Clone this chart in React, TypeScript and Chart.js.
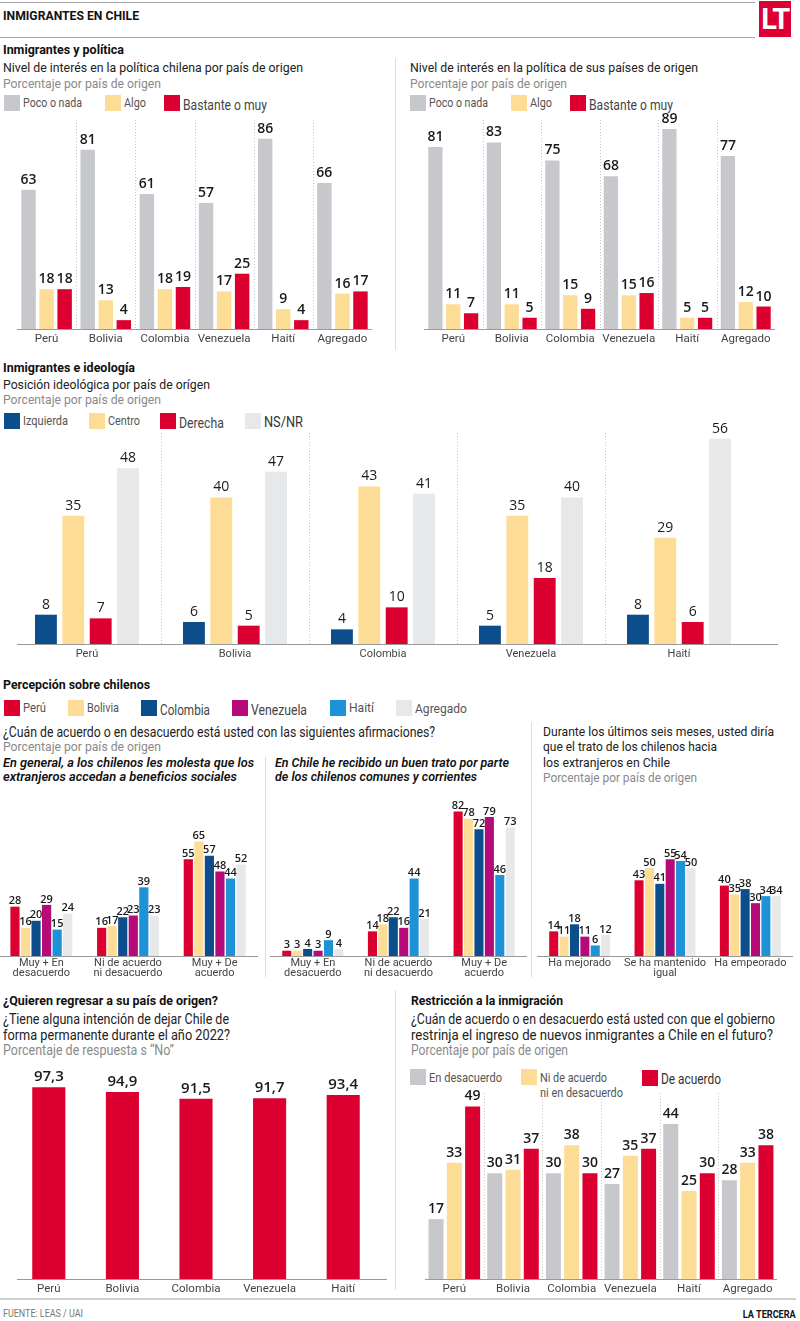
import React, { useEffect, useLayoutEffect, useRef } from 'react';
import { Chart, registerables } from 'chart.js';
Chart.register(...registerables);

// ---------- DATA ----------
const COUNTRIES6 = ['Perú', 'Bolivia', 'Colombia', 'Venezuela', 'Haití', 'Agregado'];
const COUNTRIES5 = ['Perú', 'Bolivia', 'Colombia', 'Venezuela', 'Haití'];

const chilePoco = [63, 81, 61, 57, 86, 66];
const chileAlgo = [18, 13, 18, 17, 9, 16];
const chileBastante = [18, 4, 19, 25, 4, 17];

const origenPoco = [81, 83, 75, 68, 89, 77];
const origenAlgo = [11, 11, 15, 15, 5, 12];
const origenBastante = [7, 5, 9, 16, 5, 10];

const ideoIzquierda = [8, 6, 4, 5, 8];
const ideoCentro = [35, 40, 43, 35, 29];
const ideoDerecha = [7, 5, 10, 18, 6];
const ideoNsnr = [48, 47, 41, 40, 56];

const acuerdoCats = [['Muy + En', 'desacuerdo'], ['Ni de acuerdo', 'ni desacuerdo'], ['Muy + De', 'acuerdo']];
const tratoCats = ['Ha mejorado', ['Se ha mantenido', 'igual'], 'Ha empeorado'];
const percSeries = ['Perú', 'Bolivia', 'Colombia', 'Venezuela', 'Haití', 'Agregado'];

const molestaPeru = [28, 16, 55];
const molestaBolivia = [16, 17, 65];
const molestaColombia = [20, 22, 57];
const molestaVenezuela = [29, 23, 48];
const molestaHaiti = [15, 39, 44];
const molestaAgregado = [24, 23, 52];

const buenTratoPeru = [3, 14, 82];
const buenTratoBolivia = [3, 18, 78];
const buenTratoColombia = [4, 22, 72];
const buenTratoVenezuela = [3, 16, 79];
const buenTratoHaiti = [9, 44, 46];
const buenTratoAgregado = [4, 21, 73];

const tratoPeru = [14, 43, 40];
const tratoBolivia = [11, 50, 35];
const tratoColombia = [18, 41, 38];
const tratoVenezuela = [11, 55, 30];
const tratoHaiti = [6, 54, 34];
const tratoAgregado = [12, 50, 34];

const regresarNo = [97.3, 94.9, 91.5, 91.7, 93.4];

const restrDesacuerdo = [17, 30, 30, 27, 44, 28];
const restrNi = [33, 31, 38, 35, 25, 33];
const restrAcuerdo = [49, 37, 30, 37, 30, 38];

// ---------- STYLE ----------
const GRAY = '#c7c8cc';
const YELLOW = '#fddc96';
const RED = '#dc0030';
const BLUE = '#0c4e8b';
const LIGHT = '#e7e8ea';
const MAGENTA = '#b50a78';
const SKY = '#1d92d6';
const TEXTF = 'Roboto, "Open Sans", sans-serif';
const NUMF = '"Open Sans", Roboto, sans-serif';
const TICKF = 'Roboto, "Open Sans", sans-serif';

const PERC_COLORS = [RED, YELLOW, BLUE, MAGENTA, SKY, LIGHT];

const decoPlugin = {
  id: 'deco',
  beforeDatasetsDraw(chart: any, _a: any, o: any) {
    const { ctx, chartArea } = chart;
    const x = chart.scales.x;
    ctx.save();
    if (o.separators) {
      ctx.strokeStyle = '#c4c4c4';
      ctx.lineWidth = 1;
      ctx.setLineDash([1, 2]);
      for (let i = 1; i < chart.data.labels.length; i++) {
        const px = Math.round((x.getPixelForValue(i - 1) + x.getPixelForValue(i)) / 2) + 0.5;
        ctx.beginPath();
        ctx.moveTo(px, chartArea.top);
        ctx.lineTo(px, chartArea.bottom);
        ctx.stroke();
      }
    }
    ctx.setLineDash([]);
    ctx.strokeStyle = o.baseColor || '#9a9a9a';
    ctx.lineWidth = 1;
    ctx.beginPath();
    ctx.moveTo(chartArea.left - (o.extL || 0), Math.round(chartArea.bottom) + 0.5);
    ctx.lineTo(chartArea.right + (o.extR || 0), Math.round(chartArea.bottom) + 0.5);
    ctx.stroke();
    ctx.restore();
  },
  afterDatasetsDraw(chart: any, _a: any, o: any) {
    const { ctx } = chart;
    ctx.save();
    ctx.fillStyle = o.valueColor || '#1a1a1a';
    ctx.font = o.valueFont;
    ctx.textAlign = 'center';
    ctx.textBaseline = 'bottom';
    chart.data.datasets.forEach((ds: any, di: number) => {
      const meta = chart.getDatasetMeta(di);
      meta.data.forEach((el: any, i: number) => {
        const v = ds.data[i];
        const txt = o.fmt ? o.fmt(v) : String(v);
        ctx.fillText(txt, el.x, el.y - o.gap);
      });
    });
    ctx.restore();
  },
};

interface Spec {
  labels: any[];
  datasets: { label: string; data: number[]; color: string }[];
  area: [number, number, number, number];
  padTop: number;
  padLeft?: number;
  padRight?: number;
  axisH: number;
  yMax: number;
  catPct: number;
  barPct: number;
  valueFont: string;
  gap: number;
  tickSize: number;
  tickLH?: number;
  tickPad: number;
  separators: boolean;
  extL?: number;
  extR?: number;
  fmt?: (v: number) => string;
}

function BarChart({ spec }: { spec: Spec }) {
  const ref = useRef<HTMLCanvasElement>(null);
  const [l, t, r, b] = spec.area;
  const pl = spec.padLeft || 0;
  const pr = spec.padRight || 0;
  const w = r - l + pl + pr;
  const h = b - t + spec.padTop + spec.axisH;
  useEffect(() => {
    const s = spec;
    const chart = new Chart(ref.current as HTMLCanvasElement, {
      type: 'bar',
      data: {
        labels: s.labels,
        datasets: s.datasets.map((d) => ({
          label: d.label,
          data: d.data,
          backgroundColor: d.color,
          borderWidth: 0,
          categoryPercentage: s.catPct,
          barPercentage: s.barPct,
        })),
      },
      options: {
        animation: false,
        responsive: false,
        maintainAspectRatio: false,
        layout: { padding: { top: s.padTop, left: pl, right: pr, bottom: 0 } },
        plugins: {
          legend: { display: false },
          tooltip: { enabled: false },
          deco: {
            separators: s.separators,
            valueFont: s.valueFont,
            gap: s.gap,
            fmt: s.fmt,
            extL: s.extL,
            extR: s.extR,
          },
        } as any,
        scales: {
          x: {
            grid: { display: false, drawTicks: false },
            border: { display: false },
            ticks: {
              color: '#444',
              padding: s.tickPad,
              maxRotation: 0,
              autoSkip: false,
              font: { family: TICKF, size: s.tickSize, lineHeight: s.tickLH || 1.2 },
            },
            afterFit: (sc: any) => {
              sc.height = s.axisH;
            },
          } as any,
          y: { display: false, min: 0, max: s.yMax },
        },
      },
      plugins: [decoPlugin as any],
    });
    return () => chart.destroy();
  }, []);
  return (
    <canvas
      ref={ref}
      width={w}
      height={h}
      style={{ position: 'absolute', left: l - pl, top: t - spec.padTop, width: w, height: h }}
    />
  );
}

// Text element; if w is given, it is horizontally fitted to that width (the
// reference uses a condensed typeface that is not installed).
function T({ x, y, size = 13, weight = 400, color = '#222', italic = false, right, w, children, family = TEXTF }: any) {
  const ref = useRef<HTMLDivElement>(null);
  useLayoutEffect(() => {
    const el = ref.current;
    if (!el || !w) return;
    const fit = () => {
      el.style.transform = 'none';
      const nat = el.getBoundingClientRect().width;
      if (nat > 0) el.style.transform = `scaleX(${w / nat})`;
    };
    fit();
    const f = (document as any).fonts;
    if (f && f.ready) f.ready.then(fit);
  }, []);
  const lh = Math.round(size * 1.2);
  const st: any = {
    position: 'absolute',
    top: y - lh / 2,
    lineHeight: lh + 'px',
    fontSize: size,
    fontWeight: weight,
    color,
    fontStyle: italic ? 'italic' : 'normal',
    fontFamily: family,
    whiteSpace: 'nowrap',
    transformOrigin: right !== undefined ? 'right center' : 'left center',
  };
  if (right !== undefined) st.right = 800 - right;
  else st.left = x;
  return (
    <div ref={ref} style={st}>
      {children}
    </div>
  );
}

function Leg({ x, y, color, text, size = 13, tcolor = '#555', dy = 0, w }: any) {
  return (
    <>
      <div style={{ position: 'absolute', left: x, top: y - 8, width: 16, height: 16, background: color }} />
      <T x={x + 19} y={y + dy} size={size} color={tcolor} w={w}>
        {text}
      </T>
    </>
  );
}

function Line({ x, y, w, h, c }: any) {
  return <div style={{ position: 'absolute', left: x, top: y, width: w, height: h, background: c }} />;
}

export default function App() {
  const v14 = `600 14px ${NUMF}`;
  const specA1: Spec = {
    labels: COUNTRIES6,
    datasets: [
      { label: 'Poco o nada', data: chilePoco, color: GRAY },
      { label: 'Algo', data: chileAlgo, color: YELLOW },
      { label: 'Bastante o muy', data: chileBastante, color: RED },
    ],
    area: [17, 120, 372, 329],
    padTop: 22,
    axisH: 20,
    yMax: 94.5,
    catPct: 0.915,
    barPct: 0.8,
    valueFont: v14,
    gap: 3,
    tickSize: 11.5,
    tickPad: 3,
    separators: true,
  };
  const specA2: Spec = {
    ...specA1,
    datasets: [
      { label: 'Poco o nada', data: origenPoco, color: GRAY },
      { label: 'Algo', data: origenAlgo, color: YELLOW },
      { label: 'Bastante o muy', data: origenBastante, color: RED },
    ],
    area: [424, 120, 775, 329],
    yMax: 93,
  };
  const specB: Spec = {
    labels: COUNTRIES5,
    datasets: [
      { label: 'Izquierda', data: ideoIzquierda, color: BLUE },
      { label: 'Centro', data: ideoCentro, color: YELLOW },
      { label: 'Derecha', data: ideoDerecha, color: RED },
      { label: 'NS/NR', data: ideoNsnr, color: LIGHT },
    ],
    area: [13, 433, 753, 644],
    padTop: 25,
    padRight: 26,
    padLeft: 0,
    extL: -4,
    extR: 25,
    axisH: 22,
    yMax: 57.6,
    catPct: 0.74,
    barPct: 0.8,
    valueFont: `500 14px ${NUMF}`,
    gap: 3,
    tickSize: 11,
    tickPad: 4,
    separators: true,
  };
  const percBase = {
    padTop: 10,
    axisH: 26,
    yMax: 88.6,
    catPct: 0.73,
    barPct: 0.87,
    valueFont: `600 11px ${NUMF}`,
    gap: 0,
    tickSize: 11,
    tickLH: 0.92,
    tickPad: 2,
    separators: false,
  };
  const mk = (arrs: number[][]) => arrs.map((d, i) => ({ label: percSeries[i], data: d, color: PERC_COLORS[i] }));
  const specC1: Spec = {
    ...percBase,
    labels: acuerdoCats,
    datasets: mk([molestaPeru, molestaBolivia, molestaColombia, molestaVenezuela, molestaHaiti, molestaAgregado]),
    area: [-2, 800, 258, 956],
  };
  const specC2: Spec = {
    ...percBase,
    labels: acuerdoCats,
    datasets: mk([buenTratoPeru, buenTratoBolivia, buenTratoColombia, buenTratoVenezuela, buenTratoHaiti, buenTratoAgregado]),
    area: [270, 800, 527, 956],
  };
  const specC3: Spec = {
    ...percBase,
    labels: tratoCats,
    datasets: mk([tratoPeru, tratoBolivia, tratoColombia, tratoVenezuela, tratoHaiti, tratoAgregado]),
    area: [537, 800, 793, 956],
  };
  const specD: Spec = {
    labels: COUNTRIES5,
    datasets: [{ label: 'No', data: regresarNo, color: RED }],
    area: [12, 1070, 380, 1279],
    padTop: 20,
    padRight: 8,
    extL: -5,
    extR: 7,
    axisH: 20,
    yMax: 106.1,
    catPct: 1,
    barPct: 0.45,
    valueFont: `600 15px ${NUMF}`,
    gap: 3,
    tickSize: 11.5,
    tickPad: 3,
    separators: false,
    fmt: (v: number) => v.toFixed(1).replace('.', ','),
  };
  const specE: Spec = {
    labels: COUNTRIES6,
    datasets: [
      { label: 'En desacuerdo', data: restrDesacuerdo, color: GRAY },
      { label: 'Ni de acuerdo ni en desacuerdo', data: restrNi, color: YELLOW },
      { label: 'De acuerdo', data: restrAcuerdo, color: RED },
    ],
    area: [425, 1093, 777, 1279],
    padTop: 12,
    axisH: 20,
    yMax: 52.8,
    catPct: 0.935,
    barPct: 0.82,
    valueFont: v14,
    gap: 3,
    tickSize: 11.5,
    tickPad: 3,
    separators: true,
  };

  const GREY_T = '#8a8a8a';
  return (
    <div style={{ position: 'absolute', left: 0, top: 0, width: 800, height: 1321, background: '#fff', overflow: 'hidden' }}>
      {/* header */}
      <Line x={0} y={2} w={755} h={1} c="#aaa" />
      <Line x={0} y={37} w={755} h={1} c="#aaa" />
      <T x={3} y={16} size={13} weight={700} color="#111" w={136}>INMIGRANTES EN CHILE</T>
      <div
        style={{
          position: 'absolute',
          left: 759,
          top: 1,
          width: 32,
          height: 36,
          background: RED,
          color: '#fff',
          fontFamily: TEXTF,
          fontWeight: 700,
          fontSize: 29,
          lineHeight: '37px',
          textAlign: 'center',
          letterSpacing: -1.5,
        }}
      >
        LT
      </div>

      {/* section 1 */}
      <T x={3} y={50} weight={700} color="#111" w={121}>Inmigrantes y política</T>
      <T x={3} y={68} w={300}>Nivel de interés en la política chilena por país de origen</T>
      <T x={3} y={84} color={GREY_T} w={158}>Porcentaje por país de origen</T>
      <Leg x={4} y={103} color={GRAY} text="Poco o nada" w={59} />
      <Leg x={105} y={103} color={YELLOW} text="Algo" w={22} />
      <Leg x={164} y={103} color={RED} text="Bastante o muy" size={14} tcolor="#444" dy={2} w={84} />
      <T x={410} y={68} w={288}>Nivel de interés en la política de sus países de origen</T>
      <T x={410} y={84} color={GREY_T} w={157}>Porcentaje por país de origen</T>
      <Leg x={410} y={103} color={GRAY} text="Poco o nada" w={59} />
      <Leg x={511} y={103} color={YELLOW} text="Algo" w={22} />
      <Leg x={570} y={103} color={RED} text="Bastante o muy" size={14} tcolor="#444" dy={2} w={84} />
      <Line x={395} y={58} w={1} h={292} c="#ddd" />
      <BarChart spec={specA1} />
      <BarChart spec={specA2} />

      {/* section 2 */}
      <T x={3} y={368} weight={700} color="#111" w={132}>Inmigrantes e ideología</T>
      <T x={3} y={385} w={207}>Posición ideológica por país de orígen</T>
      <T x={3} y={400} color={GREY_T} w={158}>Porcentaje por país de origen</T>
      <Leg x={4} y={421} color={BLUE} text="Izquierda" w={45} />
      <Leg x={89} y={421} color={YELLOW} text="Centro" w={32} />
      <Leg x={160} y={421} color={RED} text="Derecha" size={14} tcolor="#444" dy={2} w={45} />
      <Leg x={245} y={421} color={LIGHT} text="NS/NR" size={14} tcolor="#333" dy={1} w={39} />
      <BarChart spec={specB} />

      {/* section 3 */}
      <T x={3} y={685} weight={700} color="#111" w={147}>Percepción sobre chilenos</T>
      <Leg x={4} y={708} color={RED} text="Perú" w={23} />
      <Leg x={68} y={708} color={YELLOW} text="Bolivia" w={32} />
      <Leg x={141} y={708} color={BLUE} text="Colombia" size={14} tcolor="#444" dy={2} w={50} />
      <Leg x={232} y={708} color={MAGENTA} text="Venezuela" size={14} tcolor="#444" dy={2} w={56} />
      <Leg x={330} y={708} color={SKY} text="Haití" w={25} />
      <Leg x={396} y={708} color={LIGHT} text="Agregado" size={13.5} w={52} />
      <T x={3} y={732} size={14} w={432}>¿Cuán de acuerdo o en desacuerdo está usted con las siguientes afirmaciones?</T>
      <T x={3} y={747} color={GREY_T} w={158}>Porcentaje por país de origen</T>
      <T x={3} y={763} italic weight={600} color="#111" w={251}>En general, a los chilenos les molesta que los</T>
      <T x={3} y={777} italic weight={600} color="#111" w={234}>extranjeros accedan a beneficios sociales</T>
      <T x={275} y={763} italic weight={600} color="#111" w={234}>En Chile he recibido un buen trato por parte</T>
      <T x={275} y={777} italic weight={600} color="#111" w={202}>de los chilenos comunes y corrientes</T>
      <T x={543} y={732} w={231}>Durante los últimos seis meses, usted diría</T>
      <T x={543} y={747} w={174}>que el trato de los chilenos hacia</T>
      <T x={543} y={763} w={127}>los extranjeros en Chile</T>
      <T x={543} y={778} color={GREY_T} w={154}>Porcentaje por país de origen</T>
      <Line x={265} y={757} w={1} h={220} c="#ddd" />
      <Line x={531} y={722} w={1} h={255} c="#ddd" />
      <BarChart spec={specC1} />
      <BarChart spec={specC2} />
      <BarChart spec={specC3} />

      {/* section 4 */}
      <T x={3} y={1001} weight={700} color="#111" w={215}>¿Quieren regresar a su país de origen?</T>
      <T x={3} y={1019} size={14} w={226}>¿Tiene alguna intención de dejar Chile de</T>
      <T x={3} y={1035} size={14} w={227}>forma permanente durante el año 2022?</T>
      <T x={3} y={1050} size={14} color={GREY_T} w={171}>Porcentaje de respuesta s “No”</T>
      <BarChart spec={specD} />
      <Line x={395} y={990} w={1} h={300} c="#ddd" />
      <T x={411} y={1001} weight={700} color="#111" w={152}>Restricción a la inmigración</T>
      <T x={411} y={1019} size={14} w={364}>¿Cuán de acuerdo o en desacuerdo está usted con que el gobierno</T>
      <T x={411} y={1035} size={14} w={362}>restrinja el ingreso de nuevos inmigrantes a Chile en el futuro?</T>
      <T x={411} y={1050} size={14} color={GREY_T} w={157}>Porcentaje por país de origen</T>
      <Leg x={410} y={1077} color={GRAY} text="En desacuerdo" size={13.5} w={73} />
      <Leg x={521} y={1077} color={YELLOW} text="Ni de acuerdo" size={13.5} w={67} />
      <T x={540} y={1092} size={13.5} color="#555" w={83}>ni en desacuerdo</T>
      <Leg x={642} y={1078} color={RED} text="De acuerdo" size={14.5} tcolor="#333" dy={1} w={60} />
      <BarChart spec={specE} />

      {/* footer */}
      <Line x={0} y={1298} w={796} h={2} c="#d0d0d0" />
      <T x={3} y={1314} size={10} color="#777" w={80}>FUENTE: LEAS / UAI</T>
      <T right={796} y={1314} size={11} weight={700} color="#111" w={53}>LA TERCERA</T>
    </div>
  );
}
